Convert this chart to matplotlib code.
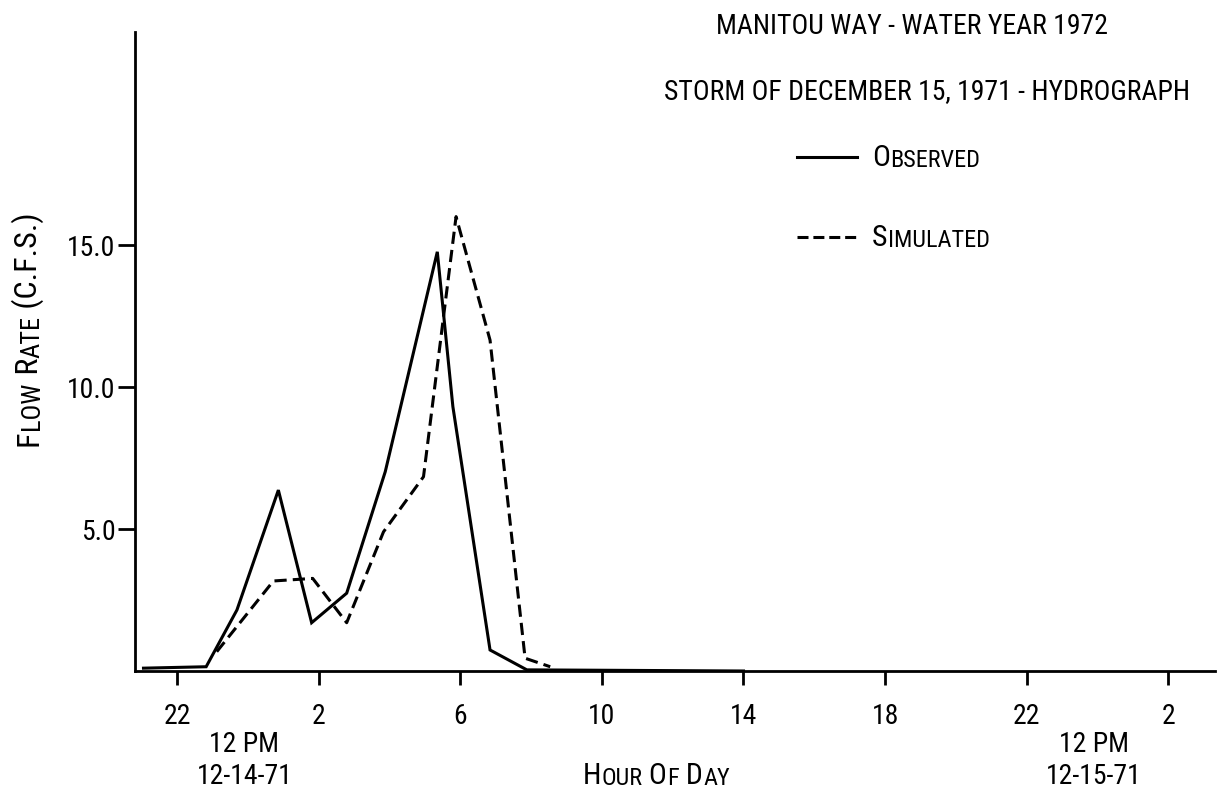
import numpy as np
import matplotlib.pyplot as plt
import matplotlib.transforms as mtransforms
from matplotlib.lines import Line2D

plt.rcParams['font.family'] = ['Roboto Condensed', 'Liberation Sans', 'DejaVu Sans']

# hodiny od půlnoci 12-14-71 (24 = půlnoc 12-15)
obs_hour = [21.05, 22.82, 23.69, 24.86, 25.80, 26.79, 27.88, 29.35, 29.79, 30.84, 31.88, 38.0]
obs_flow = [0.10, 0.15, 2.15, 6.37, 1.70, 2.74, 7.02, 14.76, 9.31, 0.74, 0.04, 0.0]

sim_hour = [23.12, 24.72, 25.83, 26.79, 27.83, 28.96, 29.88, 30.84, 31.83, 32.54]
sim_flow = [0.68, 3.17, 3.26, 1.70, 4.90, 6.84, 16.0, 11.65, 0.45, 0.15]

tick_hours = [22, 26, 30, 34, 38, 42, 46, 50]
tick_labels = ['22', '2', '6', '10', '14', '18', '22', '2']
y_ticks = [5, 10, 15]
y_labels = ['5.0', '10.0', '15.0']
midnights = [24, 48]
dates = ['12-14-71', '12-15-71']

W, H = 1222, 791
FS = 20                 # běžný text

fig = plt.figure(figsize=(W / 100, H / 100), dpi=100)
ax = fig.add_axes([135 / W, 1 - 671 / H, (1215 - 135) / W, (671 - 32) / H])

def px(x, y):
    return x / W, 1 - y / H

def small_caps(x, y, parts, rotation=0, big=21.5, small=17.5):
    # parts: (text, velké písmo?) - napodobení kapitálek
    s, b = parts[0]
    fx, fy = px(x, y)
    if rotation == 0:
        t = fig.text(fx, fy, s, fontsize=big if b else small, ha='left', va='bottom')
        for s, b in parts[1:]:
            t = ax.annotate(s, xy=(1, 0), xycoords=t, ha='left', va='bottom',
                            fontsize=big if b else small, annotation_clip=False)
    else:
        t = fig.text(fx, fy, s, fontsize=big if b else small, ha='right', va='bottom',
                     rotation=90)
        for s, b in parts[1:]:
            t = ax.annotate(s, xy=(1, 1), xycoords=t, ha='right', va='bottom',
                            rotation=90, fontsize=big if b else small, annotation_clip=False)

# data
ax.plot(obs_hour, obs_flow, color='black', lw=2.2, solid_joinstyle='miter')
ax.plot(sim_hour, sim_flow, color='black', lw=2.2, dashes=(4, 2))

ax.set_xlim(20.81, 51.32)
ax.set_ylim(0, 22.5)

for side in ['top', 'right']:
    ax.spines[side].set_visible(False)
for side in ['left', 'bottom']:
    ax.spines[side].set_linewidth(2)

ax.set_xticks(tick_hours, tick_labels)
ax.set_yticks(y_ticks, y_labels)
ax.tick_params(axis='x', direction='out', length=10, width=2, pad=13, labelsize=FS)
ax.tick_params(axis='y', direction='out', length=12, width=2, pad=2, labelsize=FS)

# půlnoc a datum pod osou
tr = mtransforms.blended_transform_factory(ax.transData, fig.transFigure)
for h, d in zip(midnights, dates):
    ax.text(h - 0.1, 1 - 744 / H, '12 PM', transform=tr, ha='center', va='center', fontsize=FS)
    ax.text(h - 0.1, 1 - 776 / H, d, transform=tr, ha='center', va='center', fontsize=FS)

# nadpis
fig.text(*px(912, 27), 'MANITOU WAY - WATER YEAR 1972', ha='center', va='center', fontsize=FS)
fig.text(*px(927, 92), 'STORM OF DECEMBER 15, 1971 - HYDROGRAPH', ha='center', va='center',
         fontsize=FS)

# legenda
fig.add_artist(Line2D([797 / W, 857 / W], [1 - 157 / H] * 2, color='black', lw=2.2))
fig.add_artist(Line2D([797 / W, 857 / W], [1 - 237 / H] * 2, color='black', lw=2.2,
                      dashes=(3.6, 1.6)))
small_caps(872, 172, [('O', True), ('BSERVED', False)])
small_caps(872, 252, [('S', True), ('IMULATED', False)])

# popisky os
small_caps(44, 446, [('F', True), ('LOW', False), (' R', True), ('ATE', False),
                     (' (C.F.S.)', True)], rotation=90, big=23, small=19)
small_caps(583, 790, [('H', True), ('OUR', False), (' O', True), ('F', False),
                      (' D', True), ('AY', False)])

fig.savefig('out.png', dpi=100)
